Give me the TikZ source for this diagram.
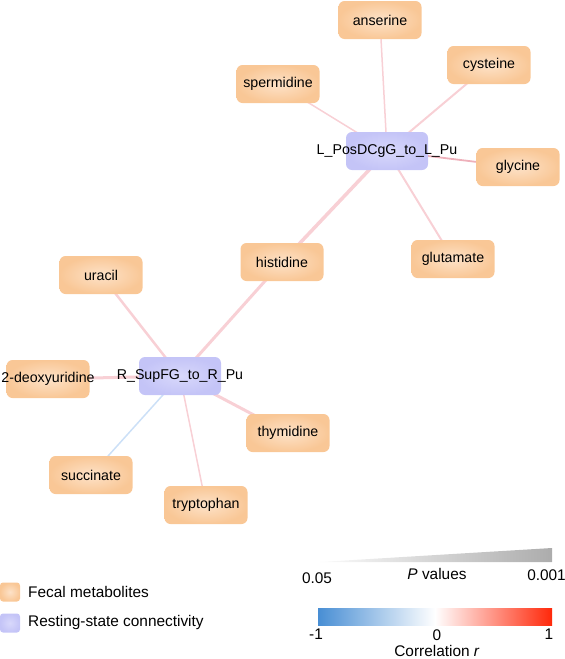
\documentclass[tikz,border=0pt]{standalone}
\usepackage{fontspec}
\setmainfont{Liberation Sans}
\usetikzlibrary{backgrounds}

\definecolor{metabout}{RGB}{249,199,150}
\definecolor{metabin}{RGB}{253,226,200}
\definecolor{connout}{RGB}{196,196,247}
\definecolor{connin}{RGB}{216,216,251}
\definecolor{poscol}{RGB}{248,208,213}
\definecolor{posdark}{RGB}{238,176,186}
\definecolor{negcol}{RGB}{204,224,247}
\definecolor{barblue}{RGB}{72,142,212}
\definecolor{barred}{RGB}{255,40,10}

\tikzset{
  metab/.style={rectangle, rounded corners=6pt, minimum width=83pt, minimum height=38pt,
    inner xsep=-35pt, inner color=metabin, outer color=metabout,
    font=\fontsize{14.2}{16}\selectfont},
  conn/.style={metab, minimum width=82pt, inner color=connin, outer color=connout},
  link/.style={draw=poscol, line cap=round},
  keytext/.style={font=\fontsize{15.4}{18}\selectfont, inner sep=1pt},
}

\begin{document}
\begin{tikzpicture}[x=1pt, y=-1pt]

        \useasboundingbox (0,0) rectangle (565,659);

        \node[conn] (lpos) at (387,151) {L\_PosDCgG\_to\_L\_Pu};
        \node[conn] (rsup) at (180,376) {R\_SupFG\_to\_R\_Pu};

        \node[metab] (anserine) at (380,20) {anserine};
        \node[metab] (cysteine) at (489,65) {cysteine};
        \node[metab] (spermidine) at (278,84) {spermidine};
        \node[metab] (glycine) at (518,167) {glycine};
        \node[metab] (glutamate) at (453,259) {glutamate};
        \node[metab] (histidine) at (282,262) {histidine};
        \node[metab] (uracil) at (101,275) {uracil};
        \node[metab] (deoxyuridine) at (48,379) {2-deoxyuridine};
        \node[metab] (thymidine) at (288,433) {thymidine};
        \node[metab] (succinate) at (91,475) {succinate};
        \node[metab] (tryptophan) at (206,505) {tryptophan};

        \begin{scope}[on background layer]
            \draw[link, line width=1.5pt] (lpos.center) -- (anserine.center);
            \draw[link, line width=1.5pt] (lpos.center) -- (spermidine.center);
            \draw[link, line width=2pt] (lpos.center) -- (cysteine.center);
            \draw[link, draw=posdark, line width=1.8pt] (lpos.center) -- (glycine.center);
            \draw[link, line width=2pt] (lpos.center) -- (glutamate.center);
            \draw[link, line width=3.5pt] (lpos.center) -- (histidine.center);

            \draw[link, line width=3pt] (rsup.center) -- (histidine.center);
            \draw[link, line width=2.5pt] (rsup.center) -- (uracil.center);
            \draw[link, line width=3pt] (rsup.center) -- (deoxyuridine.center);
            \draw[link, line width=3pt] (rsup.center) -- (thymidine.center);
            \draw[link, draw=negcol, line width=1.5pt] (rsup.center) -- (succinate.center);
            \draw[link, line width=1.5pt] (rsup.center) -- (tryptophan.center);
        \end{scope}

        % legend
        \node[metab, rounded corners=3pt, minimum width=20pt, minimum height=19pt, inner sep=0pt] (fecalkey) at (10,592) {};
        \node[keytext, anchor=west] (fecaltext) at (27,592) {Fecal metabolites};
        \node[conn, rounded corners=3pt, minimum width=20pt, minimum height=19pt, inner sep=0pt] (connkey) at (10,623) {};
        \node[keytext, anchor=west] (conntext) at (27,623) {Resting-state connectivity};

        \shade[left color=gray!3, right color=gray!65] (320,562) -- (552,548) -- (552,562) -- cycle;
        \node[keytext] (plow) at (317,578) {0.05};
        \node[keytext] (ptitle) at (437,574) {\textit{P} values};
        \node[keytext, anchor=east] (phigh) at (567,575) {0.001};

        \shade[left color=barblue, right color=barred, middle color=white] (318,608) rectangle (552,625);
        \node[keytext] (rlow) at (316,634) {-1};
        \node[keytext] (rmid) at (437,635) {0};
        \node[keytext] (rhigh) at (549,634) {1};
        \node[keytext] (rtitle) at (437,651) {Correlation \textit{r}};

    \end{tikzpicture}
\end{document}
